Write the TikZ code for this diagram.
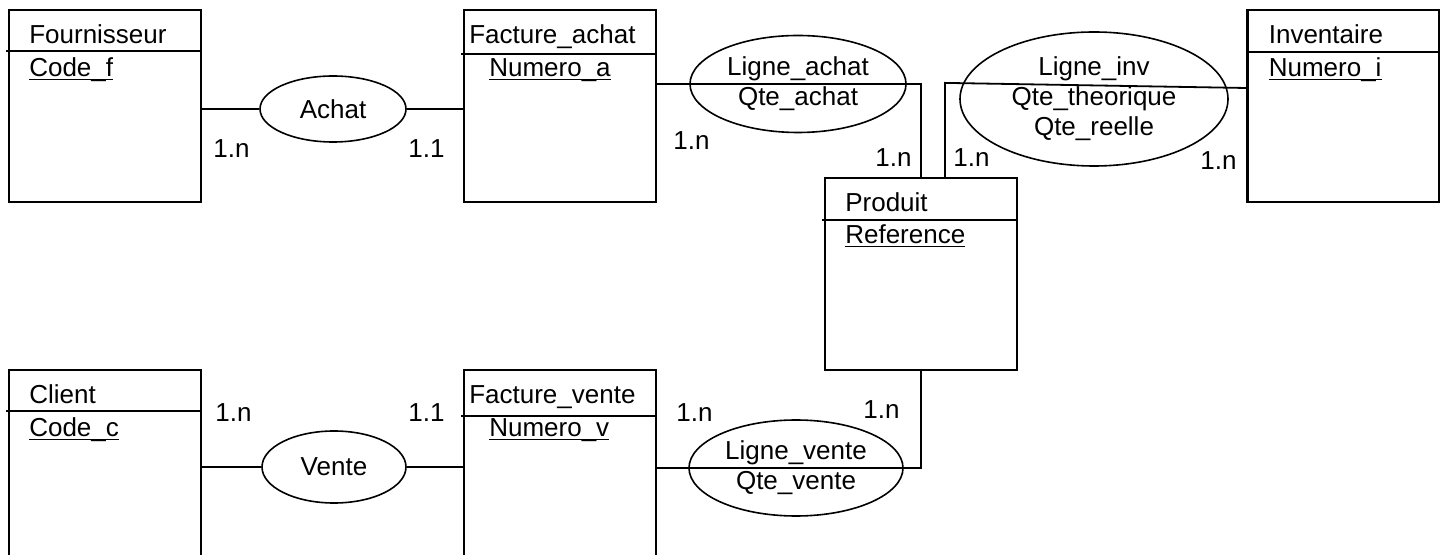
\documentclass[tikz,border=0pt]{standalone}
\usepackage{fontspec}
\setmainfont{Liberation Sans}
\usetikzlibrary{positioning,shapes.geometric}

\begin{document}
\begin{tikzpicture}[x=0.5pt, y=-0.5pt, font=\fontsize{13}{15}\selectfont,
  ent/.style={draw, line width=1.1pt, minimum width=96pt, minimum height=96pt, inner sep=0pt},
  hl/.style={line width=0.65pt},
  ttl/.style={anchor=base west, inner sep=0pt},
  asso/.style={ellipse, draw, line width=0.8pt, inner sep=0pt, align=center},
  lk/.style={line width=0.9pt},
  card/.style={anchor=base west, inner sep=0pt}]
\useasboundingbox (0,0) rectangle (1440,555);
% entites
\node[ent] (four) at (105,106) {};
\node[ent] (fa) at (560,106) {};
\node[ent] (inv) at (1343.5,106) {};
\node[ent] (prod) at (921,274) {};
\node[ent, minimum height=105pt] (client) at (105,475) {};
\node[ent, minimum height=105pt] (fv) at (560,475) {};
\draw[hl] ([shift={(-2,42)}]four.north west) -- ([shift={(0,42)}]four.north east);
\draw[hl] ([shift={(-2,45)}]fa.north west) -- ([shift={(0,45)}]fa.north east);
\draw[hl] ([shift={(0,43)}]inv.north west) -- ([shift={(0,43)}]inv.north east);
\draw[hl] ([shift={(-2,43)}]prod.north west) -- ([shift={(0,43)}]prod.north east);
\draw[hl] ([shift={(-2,42)}]client.north west) -- ([shift={(0,42)}]client.north east);
\draw[hl] ([shift={(-2,47)}]fv.north west) -- ([shift={(0,47)}]fv.north east);
\node[ttl] (four-t) at ([shift={(21,35)}]four.north west) {Fournisseur};
\node[ttl] (four-k) at ([shift={(21,68)}]four.north west) {\underline{\smash{Code\_f}}};
\node[ttl] (fa-t) at ([shift={(6,35)}]fa.north west) {Facture\_achat};
\node[ttl] (fa-k) at ([shift={(26,68)}]fa.north west) {\underline{\smash{Numero\_a}}};
\node[ttl] (inv-t) at ([shift={(22,35)}]inv.north west) {Inventaire};
\node[ttl] (inv-k) at ([shift={(22,68)}]inv.north west) {\underline{\smash{Numero\_i}}};
\node[ttl] (prod-t) at ([shift={(21,35)}]prod.north west) {Produit};
\node[ttl] (prod-k) at ([shift={(21,67)}]prod.north west) {\underline{\smash{Reference}}};
\node[ttl] (client-t) at ([shift={(21,35)}]client.north west) {Client};
\node[ttl] (client-k) at ([shift={(21,68)}]client.north west) {\underline{\smash{Code\_c}}};
\node[ttl] (fv-t) at ([shift={(6,35)}]fv.north west) {Facture\_vente};
\node[ttl] (fv-k) at ([shift={(26,68)}]fv.north west) {\underline{\smash{Numero\_v}}};
% associations
\node[asso, minimum width=73pt, minimum height=33pt] (ach) at (333,109) {Achat};
\node[asso, minimum width=72pt, minimum height=36pt] (ven) at (334,467) {Vente};
\node[asso, minimum width=108pt, minimum height=48.5pt] (la) at (798,84) {Ligne\_achat\\Qte\_achat};
\node[asso, minimum width=134pt, minimum height=67pt] (li) at (1094,99) {Ligne\_inv\\Qte\_theorique\\Qte\_reelle};
\node[asso, minimum width=107pt, minimum height=48pt] (lv) at (796,468) {Ligne\_vente\\Qte\_vente};
\draw[lk] (four.east |- ach) -- (ach.west);
\draw[lk] (ach.east) -- (fa.west |- ach);
\draw[lk] (client.east |- ven) -- (ven.west);
\draw[lk] (ven.east) -- (fv.west |- ven);
\draw[lk] (fa.east |- la) -| (prod.north);
\draw[lk] ([shift={(24,0)}]prod.north) -- ++(0,-94) -- ([shift={(0,-18)}]inv.west);
\draw[lk] (prod.south) |- (fv.east |- lv);
% cardinalites
\node[card] (c1) at (213,158) {1.n};
\node[card] (c2) at (408,158) {1.1};
\node[card] (c3) at (673,150) {1.n};
\node[card] (c4) at (875,167) {1.n};
\node[card] (c5) at (953,167) {1.n};
\node[card] (c6) at (1200,170) {1.n};
\node[card] (c7) at (215,422) {1.n};
\node[card] (c8) at (408,422) {1.1};
\node[card] (c9) at (676,422) {1.n};
\node[card] (c10) at (863,419) {1.n};
\end{tikzpicture}
\end{document}
